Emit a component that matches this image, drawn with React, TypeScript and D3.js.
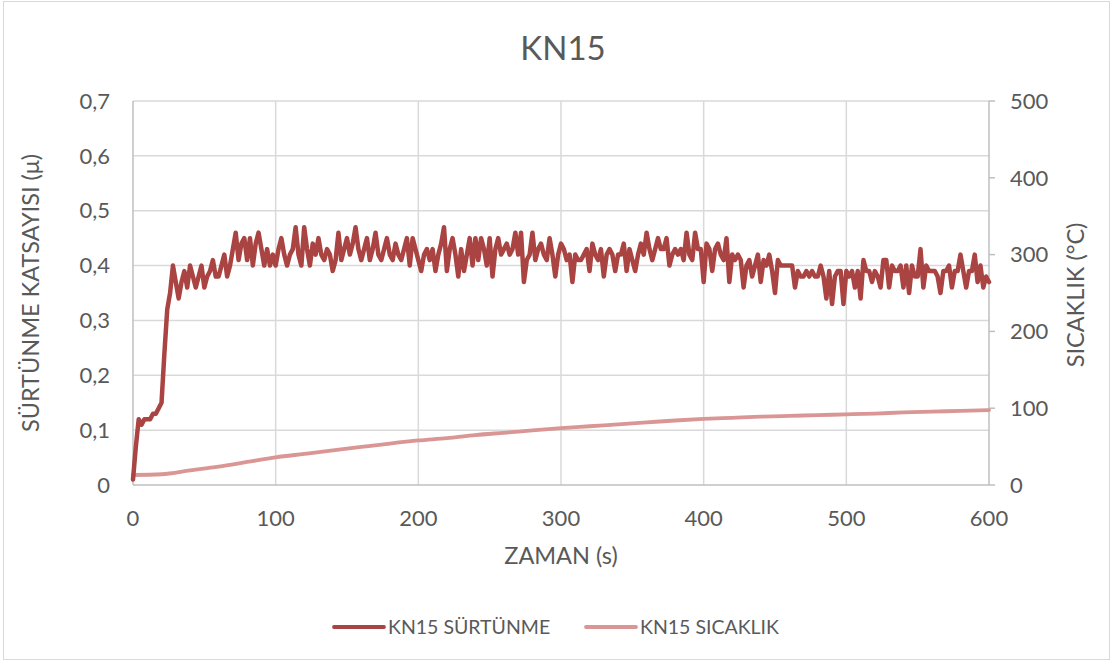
import React, { useEffect, useRef } from "react";
import * as d3 from "d3";

// Sampling step of the friction record (seconds)
const frictionStep = 2;

// Friction coefficient (μ), one reading every 2 s from 0 to 600 s
const frictionValues: number[] = [
  0.01, 0.07, 0.12, 0.11, 0.12, 0.12, 0.12, 0.13, 0.13, 0.14,
  0.15, 0.24, 0.32, 0.35, 0.40, 0.37, 0.34, 0.37, 0.39, 0.36,
  0.40, 0.38, 0.36, 0.38, 0.40, 0.36, 0.38, 0.39, 0.41, 0.38,
  0.38, 0.40, 0.42, 0.38, 0.40, 0.43, 0.46, 0.41, 0.44, 0.45,
  0.41, 0.45, 0.40, 0.44, 0.46, 0.43, 0.40, 0.43, 0.40, 0.42,
  0.40, 0.43, 0.45, 0.42, 0.40, 0.42, 0.43, 0.47, 0.42, 0.40,
  0.47, 0.43, 0.40, 0.44, 0.42, 0.45, 0.42, 0.41, 0.43, 0.42,
  0.39, 0.41, 0.46, 0.41, 0.43, 0.45, 0.42, 0.44, 0.47, 0.43,
  0.41, 0.43, 0.45, 0.41, 0.43, 0.46, 0.42, 0.41, 0.43, 0.45,
  0.42, 0.41, 0.44, 0.42, 0.41, 0.43, 0.45, 0.40, 0.45, 0.43,
  0.41, 0.39, 0.42, 0.43, 0.41, 0.43, 0.39, 0.42, 0.44, 0.47,
  0.39, 0.43, 0.45, 0.42, 0.38, 0.43, 0.39, 0.42, 0.45, 0.40,
  0.45, 0.41, 0.45, 0.43, 0.40, 0.45, 0.38, 0.43, 0.45, 0.42,
  0.43, 0.44, 0.42, 0.43, 0.46, 0.42, 0.46, 0.37, 0.41, 0.42,
  0.46, 0.41, 0.43, 0.44, 0.42, 0.41, 0.45, 0.42, 0.38, 0.42,
  0.44, 0.43, 0.41, 0.42, 0.37, 0.42, 0.41, 0.41, 0.42, 0.43,
  0.39, 0.44, 0.42, 0.41, 0.43, 0.38, 0.42, 0.43, 0.42, 0.39,
  0.42, 0.42, 0.44, 0.39, 0.43, 0.41, 0.39, 0.42, 0.44, 0.42,
  0.46, 0.43, 0.41, 0.43, 0.45, 0.43, 0.43, 0.45, 0.40, 0.42,
  0.43, 0.42, 0.43, 0.41, 0.46, 0.42, 0.41, 0.46, 0.43, 0.43,
  0.37, 0.44, 0.43, 0.39, 0.43, 0.44, 0.42, 0.41, 0.45, 0.37,
  0.42, 0.41, 0.42, 0.41, 0.36, 0.40, 0.41, 0.38, 0.40, 0.42,
  0.37, 0.41, 0.40, 0.42, 0.39, 0.35, 0.41, 0.40, 0.40, 0.40,
  0.40, 0.40, 0.36, 0.39, 0.38, 0.38, 0.39, 0.38, 0.39, 0.38,
  0.38, 0.40, 0.38, 0.34, 0.39, 0.33, 0.38, 0.39, 0.39, 0.33,
  0.39, 0.38, 0.39, 0.36, 0.39, 0.34, 0.41, 0.39, 0.39, 0.37,
  0.39, 0.38, 0.36, 0.41, 0.41, 0.36, 0.40, 0.39, 0.39, 0.40,
  0.36, 0.40, 0.35, 0.40, 0.38, 0.38, 0.43, 0.36, 0.40, 0.39,
  0.39, 0.39, 0.38, 0.35, 0.39, 0.39, 0.40, 0.36, 0.39, 0.39,
  0.42, 0.39, 0.36, 0.39, 0.39, 0.42, 0.37, 0.40, 0.36, 0.38,
  0.37,
];

// Temperature (°C), one reading every 20 s
const temperatureTimes: number[] = [
  0, 20, 40, 60, 80, 100, 120, 140, 160, 180, 200, 220, 240, 260, 280, 300,
  320, 340, 360, 380, 400, 420, 440, 460, 480, 500, 520, 540, 560, 580, 600,
];
const temperatureValues: number[] = [
  13, 14, 19, 24, 30, 36, 40.5, 45, 49.5, 54, 58, 61, 65, 68, 71, 74,
  76.5, 79, 81.5, 84, 86, 87.5, 89, 90, 91, 92, 93, 94.5, 95.5, 96.5, 97.5,
];

const timeTicks: number[] = [0, 100, 200, 300, 400, 500, 600];
const frictionTicks: number[] = [0, 0.1, 0.2, 0.3, 0.4, 0.5, 0.6, 0.7];
const temperatureTicks: number[] = [0, 100, 200, 300, 400, 500];

const chartTitle = "KN15";
const xTitle = "ZAMAN (s)";
const leftTitle = "SÜRTÜNME KATSAYISI (μ)";
const rightTitle = "SICAKLIK (°C)";
const seriesNames: string[] = ["KN15 SÜRTÜNME", "KN15 SICAKLIK"];

const WIDTH = 1115;
const HEIGHT = 663;
const FONT = "Lato, 'Open Sans', sans-serif";
const TEXT = "#595959";
const GRID = "#d9d9d9";
const FRICTION_COLOR = "#a94442";
const TEMP_COLOR = "#d99694";

export default function App() {
  const ref = useRef<SVGSVGElement>(null);

  useEffect(() => {
    const svg = d3.select(ref.current!);
    svg.selectAll("*").remove();

    const plot = { left: 133, right: 989, top: 101, bottom: 485 };

    const x = d3.scaleLinear().domain([0, 600]).range([plot.left, plot.right]);
    const yL = d3.scaleLinear().domain([0, 0.7]).range([plot.bottom, plot.top]);
    const yR = d3.scaleLinear().domain([0, 500]).range([plot.bottom, plot.top]);

    // background and outer frame
    svg.append("rect").attr("width", WIDTH).attr("height", HEIGHT).attr("fill", "#fff");
    svg
      .append("rect")
      .attr("x", 3.5)
      .attr("y", 1.5)
      .attr("width", 1106)
      .attr("height", 658)
      .attr("fill", "none")
      .attr("stroke", GRID)
      .attr("stroke-width", 1);

    // title
    svg
      .append("text")
      .attr("x", 563)
      .attr("y", 60)
      .attr("text-anchor", "middle")
      .attr("font-family", FONT)
      .attr("font-size", 33)
      .attr("fill", TEXT)
      .text(chartTitle);

    // horizontal gridlines
    svg
      .append("g")
      .selectAll("line")
      .data(frictionTicks.slice(1))
      .join("line")
      .attr("x1", plot.left)
      .attr("x2", plot.right)
      .attr("y1", (d) => yL(d))
      .attr("y2", (d) => yL(d))
      .attr("stroke", GRID)
      .attr("stroke-width", 1.5);

    // vertical gridlines
    svg
      .append("g")
      .selectAll("line")
      .data(timeTicks.slice(1, -1))
      .join("line")
      .attr("x1", (d) => x(d))
      .attr("x2", (d) => x(d))
      .attr("y1", plot.top)
      .attr("y2", plot.bottom)
      .attr("stroke", GRID)
      .attr("stroke-width", 1.5);

    // axis lines
    const axisG = svg.append("g").attr("stroke", "#bfbfbf").attr("stroke-width", 1.5);
    axisG.append("line").attr("x1", plot.left).attr("x2", plot.left).attr("y1", plot.top).attr("y2", plot.bottom);
    axisG.append("line").attr("x1", plot.left).attr("x2", plot.right).attr("y1", plot.bottom).attr("y2", plot.bottom);
    axisG.append("line").attr("x1", plot.right).attr("x2", plot.right).attr("y1", plot.top).attr("y2", plot.bottom);
    axisG
      .selectAll("line.tick")
      .data(temperatureTicks)
      .join("line")
      .attr("class", "tick")
      .attr("x1", plot.right)
      .attr("x2", plot.right + 6)
      .attr("y1", (d) => yR(d))
      .attr("y2", (d) => yR(d));

    const fmtL = (d: number) => d3.format(".1f")(d).replace(".", ",").replace(/^0,0$/, "0");
    const labels = svg.append("g").attr("font-family", FONT).attr("font-size", 22).attr("fill", TEXT);

    labels
      .selectAll("text.yl")
      .data(frictionTicks)
      .join("text")
      .attr("class", "yl")
      .attr("x", 110)
      .attr("y", (d) => yL(d))
      .attr("dy", "0.35em")
      .attr("text-anchor", "end")
      .text((d) => fmtL(d));

    labels
      .selectAll("text.yr")
      .data(temperatureTicks)
      .join("text")
      .attr("class", "yr")
      .attr("x", 1010)
      .attr("y", (d) => yR(d))
      .attr("dy", "0.35em")
      .attr("text-anchor", "start")
      .text((d) => String(d));

    labels
      .selectAll("text.xl")
      .data(timeTicks)
      .join("text")
      .attr("class", "xl")
      .attr("x", (d) => x(d))
      .attr("y", 526)
      .attr("text-anchor", "middle")
      .text((d) => String(d));

    // axis titles
    const titles = svg.append("g").attr("font-family", FONT).attr("font-size", 23.5).attr("fill", TEXT);
    titles
      .append("text")
      .attr("x", 561)
      .attr("y", 564)
      .attr("text-anchor", "middle")
      .text(xTitle);
    titles
      .append("text")
      .attr("transform", `translate(39,${(plot.top + plot.bottom) / 2}) rotate(-90)`)
      .attr("text-anchor", "middle")
      .text(leftTitle);
    titles
      .append("text")
      .attr("transform", `translate(1084,${(plot.top + plot.bottom) / 2 + 2}) rotate(-90)`)
      .attr("text-anchor", "middle")
      .text(rightTitle);

    // temperature series (right axis)
    const tempLine = d3
      .line<number>()
      .x((_, i) => x(temperatureTimes[i]))
      .y((d) => yR(d))
      .curve(d3.curveMonotoneX);
    svg
      .append("path")
      .attr("d", tempLine(temperatureValues))
      .attr("fill", "none")
      .attr("stroke", TEMP_COLOR)
      .attr("stroke-width", 3.8)
      .attr("stroke-linecap", "round")
      .attr("stroke-linejoin", "round");

    // friction series (left axis)
    const fricLine = d3
      .line<number>()
      .x((_, i) => x(i * frictionStep))
      .y((d) => yL(d));
    svg
      .append("path")
      .attr("d", fricLine(frictionValues))
      .attr("fill", "none")
      .attr("stroke", FRICTION_COLOR)
      .attr("stroke-width", 4.5)
      .attr("stroke-linecap", "round")
      .attr("stroke-linejoin", "round");

    // legend
    const legendItems = [
      { name: seriesNames[0], color: FRICTION_COLOR, x: 334 },
      { name: seriesNames[1], color: TEMP_COLOR, x: 586 },
    ];
    const lg = svg.append("g");
    legendItems.forEach((it) => {
      lg.append("line")
        .attr("x1", it.x)
        .attr("x2", it.x + 50)
        .attr("y1", 627)
        .attr("y2", 627)
        .attr("stroke", it.color)
        .attr("stroke-width", 3.8)
        .attr("stroke-linecap", "round");
      lg.append("text")
        .attr("x", it.x + 54)
        .attr("y", 627)
        .attr("dy", "0.35em")
        .attr("font-family", FONT)
        .attr("font-size", 19.5)
        .attr("fill", TEXT)
        .text(it.name);
    });
  }, []);

  return (
    <svg
      ref={ref}
      width={WIDTH}
      height={HEIGHT}
      style={{ position: "absolute", left: 0, top: 0, display: "block" }}
    />
  );
}
